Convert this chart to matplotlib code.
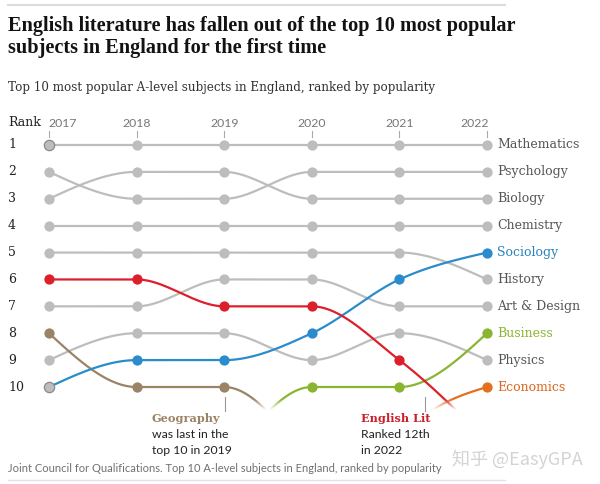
import matplotlib.pyplot as plt
import numpy as np

# data (ranks; >10 means out of the top 10)
years = [2017, 2018, 2019, 2020, 2021, 2022]

subjects = ['Mathematics', 'Psychology', 'Biology', 'Chemistry', 'History',
            'Art & Design', 'Physics', 'Geography', 'Business', 'Economics',
            'Sociology', 'English Lit']
mathematics = [1, 1, 1, 1, 1, 1]
psychology = [2, 3, 3, 2, 2, 2]
biology = [3, 2, 2, 3, 3, 3]
chemistry = [4, 4, 4, 4, 4, 4]
history = [5, 5, 5, 5, 5, 6]
art_design = [7, 7, 6, 6, 7, 7]
physics = [9, 8, 8, 9, 8, 9]
geography = [8, 10, 10, 13, None, None]
business = [None, None, 13, 10, 10, 8]
economics = [None, None, None, 18, 12, 10]
sociology = [10, 9, 9, 8, 6, 5]
english_lit = [6, 6, 7, 7, 9, 12]

series = [mathematics, psychology, biology, chemistry, history, art_design,
          physics, geography, business, economics, sociology, english_lit]

GREY = '#bdbdbd'
colors = {'Geography': '#9b8366', 'Business': '#8ab531', 'Economics': '#e4701e',
          'Sociology': '#2a8ccc', 'English Lit': '#dd1f2b'}
label_colors = {'Business': '#8ab531', 'Economics': '#d9661a', 'Sociology': '#2a83bf'}

W, H = 600, 484
fig = plt.figure(figsize=(W / 100, H / 100), dpi=100)


def px(x, y):
    return x / W, 1 - y / H


# main axes: pixel box 40..496 wide, 130..414 tall
x0, x1, y0, y1 = 40, 496, 130, 414
ax = fig.add_axes([x0 / W, 1 - y1 / H, (x1 - x0) / W, (y1 - y0) / H])
ppy = 87.6  # pixels per year
ppr = 26.9  # pixels per rank
xlim = (2017 - 9 / ppy, 2022 + (x1 - 487) / ppy)
ylim = (10 + (y1 - 387) / ppr, 1 - (145 - y0) / ppr)
ax.axis('off')


def monotone(xs, ys):
    # d3 curveMonotoneX
    xs = np.asarray(xs, float)
    ys = np.asarray(ys, float)
    n = len(xs)
    if n == 2:
        return xs, ys
    h = np.diff(xs)
    s = np.diff(ys) / h
    t = np.zeros(n)
    for i in range(1, n - 1):
        p = (s[i - 1] * h[i] + s[i] * h[i - 1]) / (h[i - 1] + h[i])
        sg = (-1 if s[i - 1] < 0 else 1) + (-1 if s[i] < 0 else 1)
        t[i] = sg * min(abs(s[i - 1]), abs(s[i]), 0.5 * abs(p))
    t[0] = (3 * s[0] - t[1]) / 2
    t[-1] = (3 * s[-1] - t[-2]) / 2
    outx, outy = [], []
    u = np.linspace(0, 1, 40)
    for i in range(n - 1):
        dx = h[i] / 3
        bxp = [xs[i], xs[i] + dx, xs[i + 1] - dx, xs[i + 1]]
        byp = [ys[i], ys[i] + dx * t[i], ys[i + 1] - dx * t[i + 1], ys[i + 1]]
        bern = [(1 - u) ** 3, 3 * (1 - u) ** 2 * u, 3 * (1 - u) * u ** 2, u ** 3]
        outx.extend(sum(b * c for b, c in zip(bern, bxp)))
        outy.extend(sum(b * c for b, c in zip(bern, byp)))
    return np.array(outx), np.array(outy)


for k, (name, r) in enumerate(zip(subjects, series)):
    c = colors.get(name, GREY)
    z = 2 if name not in colors else 3 + k * 0.01
    xs = [yr for yr, v in zip(years, r) if v is not None]
    ys = [v for v in r if v is not None]
    cx, cy = monotone(xs, ys)
    ax.plot(cx, cy, color=c, lw=1.6, zorder=z, solid_capstyle='round')
    mx = [a for a, b in zip(xs, ys) if b <= 10]
    my = [b for b in ys if b <= 10]
    ax.plot(mx, my, 'o', color=c, ms=7.4, mec='none', zorder=z + 0.5)

# first-year dots with darker ring (rank 1 and rank 10 of 2017)
ax.plot([years[0], years[0]], [mathematics[0], sociology[0]], 'o', color=GREY,
        ms=7.4, mec='#8a8a8a', mew=0.9, zorder=10)

# fade out the lines below rank 10
grad = np.ones((100, 2, 4))
grad[..., 3] = np.clip(np.linspace(0, 1.4, 100), 0, 1)[:, None]
ax.imshow(grad, extent=(xlim[0], xlim[1], ylim[0], 10.45),
          aspect='auto', zorder=20, interpolation='bilinear', origin='upper')
ax.set_xlim(*xlim)
ax.set_ylim(*ylim)

# ---- text ----
serif = 'DejaVu Serif'
sans = 'Lato'
fig.add_artist(plt.Line2D([8 / W, 505 / W], [1 - 5 / H] * 2, color='#dcdcdc', lw=1.5))
fig.add_artist(plt.Line2D([8 / W, 505 / W], [1 - 480 / H] * 2, color='#e2e2e2', lw=1.0))

fig.text(*px(8, 31), 'English literature has fallen out of the top 10 most popular',
         family='Liberation Serif', weight='bold', size=14.6, color='#121212', va='baseline')
fig.text(*px(8, 53), 'subjects in England for the first time',
         family='Liberation Serif', weight='bold', size=14.6, color='#121212', va='baseline')
fig.text(*px(8, 91), 'Top 10 most popular A-level subjects in England, ranked by popularity',
         family=serif, size=8.6, color='#333333', va='baseline')

fig.text(*px(8, 126), 'Rank', family=serif, size=9, color='#222222', va='baseline')
for i, yr in enumerate(years):
    xp = 49 + (yr - 2017) * ppy
    ha = 'left' if i == 0 else ('right' if i == len(years) - 1 else 'center')
    fig.text(*px(xp + (-1 if i == 0 else (2 if ha == 'right' else 0)), 127), str(yr),
             family=sans, size=8.8, color='#767676', ha=ha, va='baseline')
    fig.add_artist(plt.Line2D([xp / W] * 2, [1 - 131 / H, 1 - 137 / H], color='#aaaaaa', lw=0.8))

for r in range(1, 11):
    fig.text(*px(8, 145 + (r - 1) * ppr), str(r), family=serif, size=9,
             color='#222222', va='center')

finals = [s[-1] for s in series]
for name, r in zip(subjects, finals):
    if r is not None and r <= 10:
        fig.text(*px(497, 145 + (r - 1) * ppr), name, family=serif, size=9,
                 color=label_colors.get(name, '#555555'), va='center')

# annotations
fig.add_artist(plt.Line2D([225 / W] * 2, [1 - 397 / H, 1 - 411 / H], color='#999999', lw=0.8))
fig.add_artist(plt.Line2D([425 / W] * 2, [1 - 397 / H, 1 - 411 / H], color='#999999', lw=0.8))
fig.text(*px(152, 418), 'Geography', family=serif, weight='bold', size=8.1,
         color='#9b8366', va='center')
fig.text(*px(152, 435), 'was last in the', family=sans, size=8.8, color='#222222', va='center')
fig.text(*px(152, 450), 'top 10 in 2019', family=sans, size=8.8, color='#222222', va='center')
fig.text(*px(361, 418), 'English Lit', family=serif, weight='bold', size=8.1,
         color='#cc1f2b', va='center')
fig.text(*px(361, 435), 'Ranked 12th', family=sans, size=8.8, color='#222222', va='center')
fig.text(*px(361, 450), 'in 2022', family=sans, size=8.8, color='#222222', va='center')

fig.text(*px(8, 468), 'Joint Council for Qualifications. Top 10 A-level subjects in England, '
         'ranked by popularity', family=sans, size=8.0, color='#707070', va='center')
fig.text(*px(452, 459), '知乎 @EasyGPA', family=['Noto Sans CJK SC', 'DejaVu Sans'],
         size=13, color='#d4d4d4', va='center')

fig.savefig('out.png', dpi=100, facecolor='white')
